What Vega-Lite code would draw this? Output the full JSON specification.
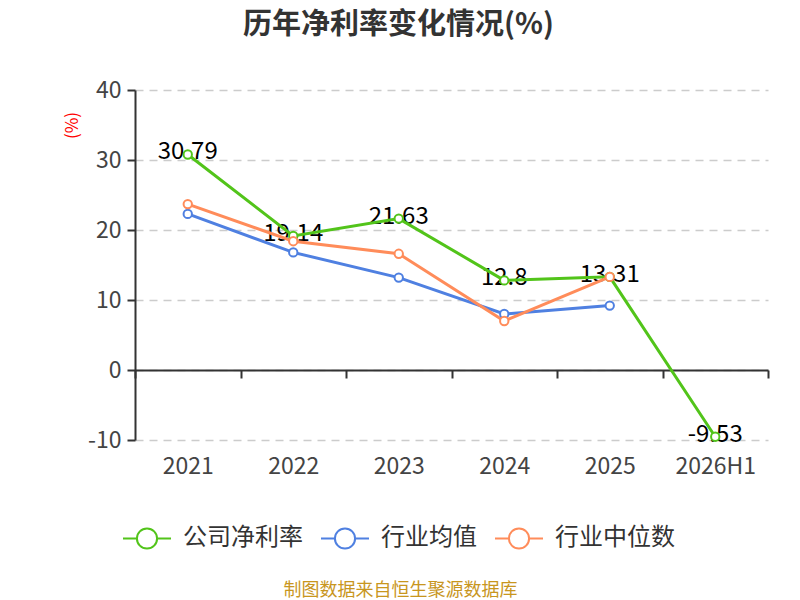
{
  "$schema": "https://vega.github.io/schema/vega-lite/v6.json",
  "width": 633,
  "height": 350,
  "autosize": {"type": "none"},
  "padding": {"left": 135, "top": 90, "right": 32, "bottom": 160},
  "background": "white",
  "title": {
    "text": "历年净利率变化情况(%)",
    "fontSize": 29,
    "fontWeight": "bold",
    "font": "Noto Sans CJK SC",
    "color": "#333333",
    "anchor": "middle",
    "frame": "group",
    "dx": -53,
    "offset": 39
  },
  "data": {
    "values": [
      {"year": "2021", "series": "公司净利率", "value": 30.79},
      {"year": "2022", "series": "公司净利率", "value": 19.14},
      {"year": "2023", "series": "公司净利率", "value": 21.63},
      {"year": "2024", "series": "公司净利率", "value": 12.8},
      {"year": "2025", "series": "公司净利率", "value": 13.31},
      {"year": "2026H1", "series": "公司净利率", "value": -9.53},
      {"year": "2021", "series": "行业均值", "value": 22.3},
      {"year": "2022", "series": "行业均值", "value": 16.8},
      {"year": "2023", "series": "行业均值", "value": 13.2},
      {"year": "2024", "series": "行业均值", "value": 8.0},
      {"year": "2025", "series": "行业均值", "value": 9.2},
      {"year": "2021", "series": "行业中位数", "value": 23.7},
      {"year": "2022", "series": "行业中位数", "value": 18.4},
      {"year": "2023", "series": "行业中位数", "value": 16.6},
      {"year": "2024", "series": "行业中位数", "value": 7.0},
      {"year": "2025", "series": "行业中位数", "value": 13.3}
    ]
  },
  "encoding": {
    "x": {
      "field": "year",
      "type": "ordinal",
      "sort": null,
      "scale": {"type": "band", "paddingInner": 0, "paddingOuter": 0},
      "axis": {
        "title": "制图数据来自恒生聚源数据库",
        "titleColor": "#C8961E",
        "titleFont": "Noto Sans CJK SC",
        "titleFontSize": 18,
        "titleFontWeight": "normal",
        "titleX": 265,
        "titleY": 220,
        "titleAlign": "center",
        "titleBaseline": "middle",
        "offset": -70,
        "labelAngle": 0,
        "labelFont": "Noto Sans CJK SC",
        "labelFontSize": 23,
        "labelColor": "#444444",
        "labelPadding": 77,
        "tickBand": "extent",
        "tickSize": 8,
        "tickWidth": 2,
        "tickColor": "#333333",
        "domainColor": "#333333",
        "domainWidth": 2,
        "grid": false
      }
    },
    "y": {
      "field": "value",
      "type": "quantitative",
      "scale": {"domain": [-10, 40], "nice": false},
      "axis": {
        "title": "(%)",
        "titleColor": "#FF0000",
        "titleFont": "Noto Sans CJK SC",
        "titleFontSize": 17,
        "titleFontWeight": "normal",
        "titleAngle": -90,
        "titleX": -63,
        "titleY": 35,
        "titleAlign": "center",
        "titleBaseline": "middle",
        "values": [-10, 0, 10, 20, 30, 40],
        "labelExpr": "toString(datum.value)",
        "labelFont": "Noto Sans CJK SC",
        "labelFontSize": 23,
        "labelColor": "#444444",
        "labelPadding": 6,
        "tickSize": 8,
        "tickWidth": 2,
        "tickColor": "#333333",
        "domainColor": "#333333",
        "domainWidth": 2,
        "grid": true,
        "gridColor": "#CCCCCC",
        "gridDash": [8, 6],
        "gridWidth": 1.5
      }
    }
  },
  "layer": [
    {
      "transform": [{"filter": "datum.series === '公司净利率'"}],
      "mark": {"type": "text", "font": "Noto Sans CJK SC", "fontSize": 24, "color": "#000000", "baseline": "middle", "dy": -2},
      "encoding": {
        "text": {"field": "value", "type": "nominal"}
      }
    },
    {
      "mark": {
        "type": "line",
        "strokeWidth": 3,
        "point": {"filled": false, "fill": "white", "size": 70, "strokeWidth": 2, "opacity": 1}
      },
      "encoding": {
        "color": {
          "field": "series",
          "type": "nominal",
          "scale": {
            "domain": ["公司净利率", "行业均值", "行业中位数"],
            "range": ["#52C41A", "#4F80E1", "#FF8C5A"]
          },
          "legend": {
            "title": null,
            "orient": "none",
            "direction": "horizontal",
            "legendX": -13,
            "legendY": 423,
            "symbolType": "M-1,0L-0.42,0M0.42,0L1,0M-0.42,0A0.42,0.42,0,1,0,0.42,0A0.42,0.42,0,1,0,-0.42,0",
            "symbolSize": 2304,
            "symbolStrokeWidth": 2,
            "symbolFillColor": "white",
            "labelFont": "Noto Sans CJK SC",
            "labelFontSize": 24,
            "labelColor": "#333333",
            "labelOffset": 11,
            "columnPadding": 14
          }
        }
      }
    }
  ],
  "config": {
    "view": {"stroke": null}
  }
}
